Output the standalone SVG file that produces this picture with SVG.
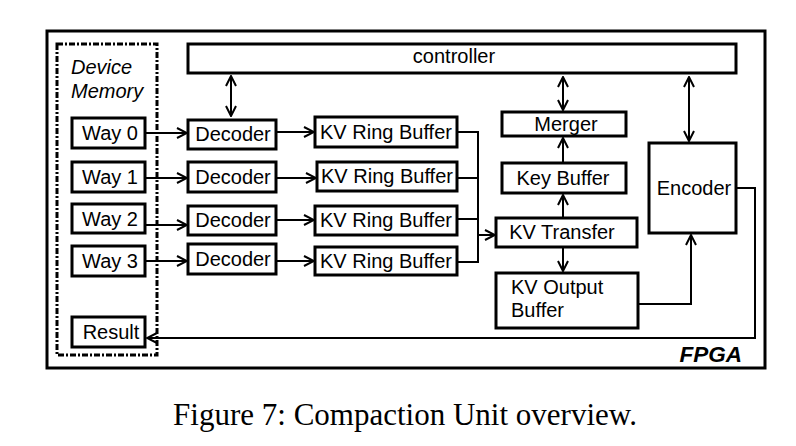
<svg xmlns="http://www.w3.org/2000/svg" width="796" height="446" viewBox="0 0 796 446">
<style>
.box{fill:#fff;stroke:#000;stroke-width:3}
.t{font-family:"Liberation Sans",Arial,sans-serif;font-size:20px;fill:#000}
.c{text-anchor:middle}
.ln{fill:none;stroke:#000;stroke-width:2}
.ar{marker-end:url(#ah)}
.dar{marker-start:url(#ah);marker-end:url(#ah)}
</style>
<defs>
<marker id="ah" viewBox="0 0 12 12" refX="11" refY="6" markerWidth="12" markerHeight="12" markerUnits="userSpaceOnUse" orient="auto-start-reverse">
<path d="M1,1 L11,6 L1,11" fill="none" stroke="#000" stroke-width="2"/>
</marker>
</defs>
<rect width="796" height="446" fill="#fff"/>
<g id="fpga">
<rect x="47" y="31" width="718" height="337" fill="none" stroke="#000" stroke-width="3"/>
<text x="742" y="362" class="t" style="font-weight:bold;font-style:italic;font-size:22.5px" text-anchor="end">FPGA</text>
</g>
<g id="device-memory">
<rect x="57" y="44" width="100" height="311" fill="none" stroke="#000" stroke-width="3" stroke-dasharray="6 2 2 2"/>
<text x="71" y="74" class="t" font-style="italic">Device</text>
<text x="71" y="98" class="t" font-style="italic">Memory</text>
</g>
<g id="controller"><rect class="box" x="188" y="44" width="548" height="29"/><text class="t c" x="454" y="63">controller</text></g>
<g id="way0"><rect class="box" x="72" y="118" width="73" height="30"/><text class="t c" x="110" y="140">Way 0</text></g>
<g id="way1"><rect class="box" x="72" y="162" width="73" height="30"/><text class="t c" x="110" y="184">Way 1</text></g>
<g id="way2"><rect class="box" x="72" y="204" width="73" height="29"/><text class="t c" x="110" y="226">Way 2</text></g>
<g id="way3"><rect class="box" x="72" y="246" width="73" height="30"/><text class="t c" x="110" y="268">Way 3</text></g>
<g id="result"><rect class="box" x="72" y="317" width="73" height="30"/><text class="t c" x="111" y="339">Result</text></g>
<g id="decoder0"><rect class="box" x="188" y="120" width="88" height="29"/><text class="t c" x="233" y="141">Decoder</text></g>
<g id="decoder1"><rect class="box" x="188" y="162" width="88" height="30"/><text class="t c" x="233" y="184">Decoder</text></g>
<g id="decoder2"><rect class="box" x="188" y="206" width="88" height="29"/><text class="t c" x="233" y="227">Decoder</text></g>
<g id="decoder3"><rect class="box" x="188" y="244" width="88" height="30"/><text class="t c" x="233" y="266">Decoder</text></g>
<g id="ringbuf0"><rect class="box" x="315" y="117" width="142" height="30"/><text class="t c" x="386" y="139">KV Ring Buffer</text></g>
<g id="ringbuf1"><rect class="box" x="317" y="162" width="140" height="29"/><text class="t c" x="387" y="183">KV Ring Buffer</text></g>
<g id="ringbuf2"><rect class="box" x="315" y="206" width="142" height="29"/><text class="t c" x="386" y="227">KV Ring Buffer</text></g>
<g id="ringbuf3"><rect class="box" x="315" y="247" width="142" height="28"/><text class="t c" x="386" y="268">KV Ring Buffer</text></g>
<g id="merger"><rect class="box" x="502" y="112" width="124" height="24"/><text class="t c" x="566" y="131">Merger</text></g>
<g id="key-buffer"><rect class="box" x="502" y="163" width="124" height="30"/><text class="t c" x="563" y="185">Key Buffer</text></g>
<g id="kv-transfer"><rect class="box" x="496" y="218" width="141" height="29"/><text class="t c" x="562" y="239">KV Transfer</text></g>
<g id="kv-output"><rect class="box" x="496" y="273" width="142" height="55"/><text class="t" x="511" y="294">KV Output</text><text class="t" x="511" y="317">Buffer</text></g>
<g id="encoder"><rect class="box" x="649" y="143" width="87" height="90"/><text class="t c" x="694" y="195">Encoder</text></g>
<g id="connectors">
<line class="ln dar" x1="231" y1="76" x2="231" y2="116"/>
<line class="ln ar" x1="145" y1="133" x2="187" y2="133"/>
<line class="ln ar" x1="145" y1="178" x2="187" y2="178"/>
<line class="ln ar" x1="145" y1="225" x2="187" y2="225"/>
<line class="ln ar" x1="145" y1="261" x2="187" y2="261"/>
<line class="ln ar" x1="276" y1="132" x2="314" y2="132"/>
<line class="ln ar" x1="276" y1="178" x2="316" y2="178"/>
<line class="ln ar" x1="276" y1="220" x2="314" y2="220"/>
<line class="ln ar" x1="276" y1="261" x2="314" y2="261"/>
<path class="ln" d="M457,132 H478 V262 H457 M457,178 H478 M457,219 H478"/>
<line class="ln ar" x1="478" y1="235" x2="495" y2="235"/>
<line class="ln dar" x1="563" y1="77" x2="563" y2="110"/>
<line class="ln ar" x1="563" y1="162" x2="563" y2="138"/>
<line class="ln ar" x1="563" y1="217" x2="563" y2="195"/>
<line class="ln ar" x1="563" y1="248" x2="563" y2="271"/>
<line class="ln dar" x1="689" y1="77" x2="689" y2="141"/>
<path class="ln ar" d="M638,304 H691 V235"/>
<path class="ln ar" d="M736,188 H755 V338 H147" stroke="#222" stroke-width="1.6"/>
</g>
<text x="405" y="425" text-anchor="middle" font-family="'Liberation Serif','Times New Roman',serif" font-size="31" fill="#000">Figure 7: Compaction Unit overview.</text>
</svg>
